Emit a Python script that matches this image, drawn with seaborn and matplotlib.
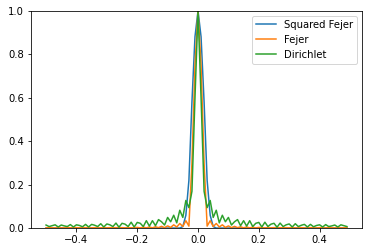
import numpy as np
import pandas as pd
import matplotlib
matplotlib.use("Agg")
import matplotlib.pyplot as plt
import seaborn as sns

# frequency grid: -0.50 ... 0.49 (step 0.01)
freq = np.round(np.arange(-50, 50) * 0.01, 2)

# values for |f| = 0.50, 0.49, ..., 0.01 (negative side, left to right)
dirichlet_neg = [0.015, 0.008, 0.012, 0.016, 0.006, 0.015, 0.011, 0.008, 0.017, 0.006,
                 0.016, 0.013, 0.007, 0.018, 0.006, 0.018, 0.014, 0.008, 0.021, 0.006,
                 0.020, 0.016, 0.008, 0.024, 0.005, 0.023, 0.019, 0.008, 0.028, 0.006,
                 0.027, 0.023, 0.008, 0.035, 0.010, 0.035, 0.012, 0.040, 0.030, 0.015,
                 0.050, 0.030, 0.060, 0.025, 0.083, 0.050, 0.128, 0.095, 0.170, 0.600]
dirichlet_pos = [1.000,
                 0.600, 0.170, 0.095, 0.128, 0.050, 0.083, 0.025, 0.060, 0.030, 0.050,
                 0.015, 0.030, 0.040, 0.012, 0.035, 0.010, 0.035, 0.008, 0.023, 0.027,
                 0.006, 0.028, 0.008, 0.019, 0.023, 0.005, 0.024, 0.008, 0.016, 0.020,
                 0.006, 0.021, 0.008, 0.014, 0.018, 0.006, 0.018, 0.007, 0.013, 0.016,
                 0.006, 0.017, 0.008, 0.011, 0.015, 0.006, 0.016, 0.012, 0.008]

fejer_neg = [0.002, 0.003, 0.002, 0.002, 0.003, 0.002, 0.002, 0.003, 0.002, 0.002,
             0.003, 0.002, 0.002, 0.003, 0.002, 0.002, 0.003, 0.002, 0.002, 0.003,
             0.002, 0.003, 0.002, 0.003, 0.002, 0.003, 0.002, 0.003, 0.002, 0.003,
             0.004, 0.002, 0.005, 0.002, 0.006, 0.002, 0.007, 0.003, 0.009, 0.003,
             0.011, 0.004, 0.016, 0.006, 0.022, 0.008, 0.035, 0.010, 0.300, 0.750]
fejer_pos = [1.000,
             0.750, 0.300, 0.010, 0.035, 0.008, 0.022, 0.006, 0.016, 0.004, 0.011,
             0.003, 0.009, 0.003, 0.007, 0.002, 0.006, 0.002, 0.005, 0.002, 0.004,
             0.003, 0.002, 0.003, 0.002, 0.003, 0.002, 0.003, 0.002, 0.003, 0.002,
             0.003, 0.002, 0.002, 0.003, 0.002, 0.002, 0.003, 0.002, 0.002, 0.003,
             0.002, 0.002, 0.003, 0.002, 0.002, 0.003, 0.002, 0.002, 0.003]

sqfejer_neg = [0.001] * 45 + [0.008, 0.060, 0.220, 0.580, 0.880]
sqfejer_pos = [1.000, 0.880, 0.580, 0.220, 0.060, 0.008] + [0.001] * 44

labels = ["Squared Fejer", "Fejer", "Dirichlet"]
colors = ["#1f77b4", "#ff7f0e", "#2ca02c"]

series = {
    "Squared Fejer": sqfejer_neg + sqfejer_pos,
    "Fejer": fejer_neg + fejer_pos,
    "Dirichlet": dirichlet_neg + dirichlet_pos,
}

fig = plt.figure(figsize=(372 / 72, 252 / 72), dpi=72)
ax = fig.add_axes([31 / 372, (252 - 228.3) / 252, (362 - 31) / 372, (228.3 - 10.7) / 252])

for lab, col in zip(labels, colors):
    df = pd.DataFrame({"f": freq, "v": series[lab]})
    sns.lineplot(data=df, x="f", y="v", color=col, label=lab, ax=ax, linewidth=1.5)

ax.set_ylim(0, 1)
ax.set_xlim(-0.5495, 0.5395)
ax.set_xticks([-0.4, -0.2, 0.0, 0.2, 0.4])
ax.set_yticks([0.0, 0.2, 0.4, 0.6, 0.8, 1.0])
ax.set_xlabel("")
ax.set_ylabel("")
ax.legend(loc="upper right")
fig.savefig("out.png", dpi=72)
